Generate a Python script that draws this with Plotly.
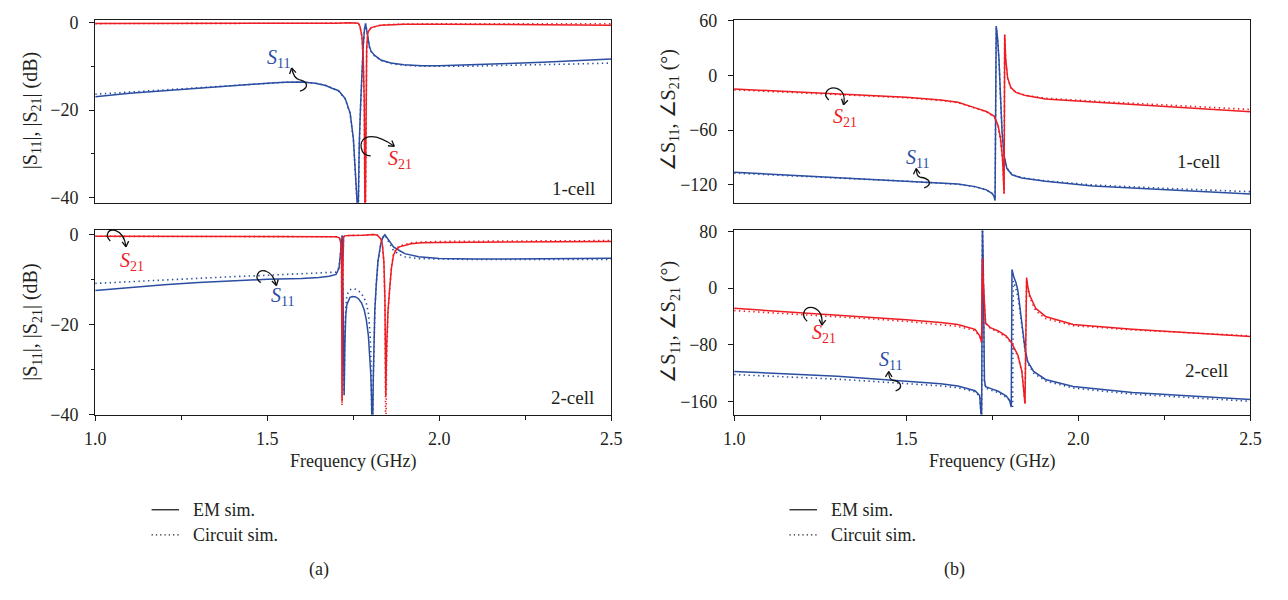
import math
import plotly.graph_objects as go

W, H = 1288, 600
BLUE = "#2B4EA2"
RED = "#EE1D23"
INK = "#231f20"
FONT = "Liberation Serif, Times New Roman, serif"

# ---------------- 1-cell, magnitude (dB) ----------------
F_TL_S11 = [1.00, 1.10, 1.20, 1.30, 1.40, 1.50, 1.55, 1.60, 1.64, 1.67, 1.69,
            1.7075, 1.7266, 1.741, 1.7503, 1.757, 1.7609, 1.7627, 1.7646, 1.7674, 1.7712,
            1.775, 1.779, 1.7827, 1.7857, 1.7886, 1.7924, 1.7971, 1.8019, 1.8114, 1.8305,
            1.859, 1.897, 1.95, 2.00, 2.10, 2.20, 2.30, 2.40, 2.50]
TL_S11_EM = [-17.0, -16.2, -15.6, -15.0, -14.4, -13.9, -13.7, -13.6, -13.9, -14.4, -15.1,
             -15.6, -17.4, -20.7, -26.5, -33.9, -40.5, -52.0, -40.0, -28.0, -19.2,
             -11.2, -5.3, -1.6, -0.3, -1.6, -3.8, -5.6, -6.6, -7.5, -8.6,
             -9.3, -9.7, -9.9, -9.9, -9.7, -9.4, -9.1, -8.8, -8.4]
TL_S11_CIR = [-16.4, -15.9, -15.4, -14.9, -14.4, -13.9, -13.7, -13.6, -13.9, -14.4, -15.1,
              -15.7, -17.5, -20.9, -26.8, -34.5, -41.0, -53.0, -41.0, -28.5, -19.5,
              -11.4, -5.4, -1.6, -0.3, -1.6, -3.9, -5.7, -6.7, -7.6, -8.7,
              -9.4, -9.8, -10.0, -10.0, -10.0, -9.8, -9.7, -9.5, -9.3]

F_TL_S21 = [1.00, 1.20, 1.40, 1.60, 1.70, 1.74, 1.755, 1.7646, 1.7694, 1.775, 1.779,
            1.782, 1.7845, 1.787, 1.789, 1.7924, 1.8019, 1.8305, 1.897, 2.00, 2.20, 2.50]
TL_S21_EM = [-0.3, -0.3, -0.3, -0.25, -0.2, -0.1, -0.1, -0.2, -0.9, -3.1, -8.0,
             -18.0, -50.0, -18.0, -6.0, -2.3, -1.2, -0.65, -0.45, -0.45, -0.55, -0.65]
TL_S21_CIR = [-0.3, -0.3, -0.3, -0.25, -0.2, -0.1, -0.1, -0.2, -0.9, -3.2, -8.5,
              -19.0, -55.0, -19.0, -6.3, -2.4, -1.2, -0.6, -0.4, -0.35, -0.35, -0.35]

# ---------------- 2-cell, magnitude (dB) ----------------
F_BL_S11 = [1.00, 1.10, 1.20, 1.30, 1.40, 1.50, 1.60, 1.65, 1.68, 1.70,
            1.7088, 1.7144, 1.7178, 1.7200, 1.7235, 1.7255, 1.728, 1.7314, 1.7404, 1.7483,
            1.757, 1.765, 1.774, 1.782, 1.788, 1.794, 1.799, 1.801, 1.803, 1.8055,
            1.8082, 1.8127, 1.817, 1.8218, 1.8297, 1.8365, 1.842, 1.849, 1.856, 1.867,
            1.884, 1.90, 1.94, 2.00, 2.10, 2.20, 2.30, 2.40, 2.50]
BL_S11_EM = [-12.5, -11.8, -11.2, -10.7, -10.3, -10.0, -9.8, -9.6, -9.3, -8.9,
             -7.5, -3.5, -0.3, -12.0, -35.4, -25.0, -18.2, -15.6, -14.0, -13.8,
             -13.9, -14.3, -15.2, -16.8, -19.0, -22.5, -28.0, -31.1, -36.0, -48.0,
             -32.0, -16.8, -11.0, -6.0, -2.2, -0.6, -0.1, -0.8, -1.7, -2.8,
             -3.6, -4.3, -5.0, -5.4, -5.5, -5.5, -5.4, -5.4, -5.3]
BL_S11_CIR = [-10.9, -10.5, -10.1, -9.8, -9.4, -9.1, -8.8, -8.7, -8.6, -8.4,
              -7.3, -3.5, -0.3, -12.0, -36.0, -24.0, -16.5, -13.5, -12.3, -12.1,
              -12.2, -12.5, -13.2, -14.2, -15.3, -17.5, -22.0, -26.0, -33.0, -50.0,
              -33.0, -17.0, -11.0, -6.2, -2.4, -0.7, -0.2, -1.2, -2.2, -3.6,
              -4.5, -5.0, -5.4, -5.5, -5.6, -5.6, -5.6, -5.6, -5.6]

F_BL_S21 = [1.00, 1.30, 1.60, 1.70, 1.710, 1.714, 1.716, 1.7175, 1.719, 1.7205,
            1.722, 1.725, 1.74, 1.78, 1.80, 1.81, 1.82, 1.83, 1.835, 1.839,
            1.842, 1.8435, 1.8445, 1.847, 1.851, 1.856, 1.861, 1.867, 1.875, 1.884,
            1.90, 1.918, 1.95, 2.00, 2.20, 2.50]
BL_S21_EM = [-0.45, -0.5, -0.5, -0.55, -0.8, -2.0, -6.0, -37.0, -10.0, -2.0,
             -0.6, -0.35, -0.25, -0.2, -0.05, -0.05, -0.2, -1.0, -2.5, -6.0,
             -14.0, -25.0, -36.0, -25.0, -17.0, -12.0, -7.5, -4.6, -3.4, -2.8,
             -2.4, -2.1, -1.9, -1.8, -1.7, -1.6]
BL_S21_CIR = [-0.45, -0.5, -0.5, -0.55, -0.8, -2.0, -6.5, -38.0, -10.5, -2.1,
              -0.6, -0.35, -0.25, -0.2, -0.05, -0.05, -0.2, -1.0, -2.6, -6.3,
              -15.0, -28.0, -48.0, -28.0, -17.5, -12.0, -7.3, -4.4, -3.2, -2.6,
              -2.2, -1.9, -1.7, -1.6, -1.5, -1.4]

# ---------------- 1-cell, phase (deg) ----------------
F_TR_S11 = [1.00, 1.10, 1.20, 1.30, 1.40, 1.50, 1.60, 1.65, 1.70, 1.733, 1.75, 1.7557,
            1.758, 1.7614, 1.7649, 1.7694, 1.774, 1.7786, 1.7843, 1.7923, 1.8072, 1.8359,
            1.9046, 2.042, 2.271, 2.50]
TR_S11_EM = [-106.0, -108.0, -110.0, -112.0, -113.8, -115.5, -117.5, -119.0, -121.8, -125.3,
             -129.5, -133.0, -137.0, 53.7, 42.6, 18.0, -24.3, -63.0, -87.7, -101.8, -108.9,
             -112.4, -115.9, -121.0, -125.6, -129.8]
TR_S11_CIR = [-107.0, -109.0, -110.8, -112.6, -114.2, -115.8, -117.8, -119.3, -122.0, -125.5,
              -129.5, -133.0, -136.0, 52.0, 41.0, 16.0, -26.0, -64.0, -88.0, -101.5, -108.5,
              -112.0, -115.5, -120.0, -124.0, -127.3]

F_TR_S21 = [1.00, 1.10, 1.20, 1.30, 1.40, 1.50, 1.60, 1.65, 1.6985, 1.7328, 1.7557, 1.7672,
            1.774, 1.7797, 1.7843, 1.786, 1.7889, 1.7946, 1.8038, 1.8187, 1.8473, 1.9046,
            2.042, 2.271, 2.50]
TR_S21_EM = [-15.0, -16.8, -18.6, -20.4, -22.2, -24.2, -27.2, -29.6, -35.4, -39.6, -44.9,
             -55.5, -69.6, -90.7, -129.5, 44.6, 18.2, -3.0, -13.5, -18.8, -22.3, -25.9,
             -29.4, -34.7, -40.0]
TR_S21_CIR = [-16.0, -17.6, -19.2, -20.9, -22.6, -24.6, -27.6, -30.0, -35.8, -40.0, -45.5,
              -56.5, -71.0, -92.0, -129.0, 44.0, 17.5, -3.5, -13.8, -18.8, -22.0, -25.2,
              -28.3, -32.8, -37.5]

# ---------------- 2-cell, phase (deg) ----------------
F_BR_S11 = [1.00, 1.10, 1.20, 1.30, 1.40, 1.50, 1.60, 1.65, 1.70, 1.7133, 1.719, 1.7213,
            1.7236, 1.7271, 1.7305, 1.7443, 1.7672, 1.79, 1.800, 1.805, 1.8072, 1.813,
            1.8187, 1.8244, 1.8301, 1.8359, 1.845, 1.853, 1.870, 1.9046, 1.985, 2.157, 2.50]
BR_S11_EM = [-117.5, -119.8, -122.0, -124.4, -127.8, -131.2, -135.0, -138.0, -144.8, -151.6,
             -190.0, 90.0, 38.0, -130.0, -139.0, -141.5, -145.5, -152.0, -158.0, -167.7,
             26.2, 14.8, 7.9, -3.5, -26.3, -49.0, -85.6, -103.8, -117.5, -128.9,
             -138.9, -147.2, -157.2]
F_BR_S11_C = [1.00, 1.10, 1.20, 1.30, 1.40, 1.50, 1.60, 1.65, 1.70, 1.7133, 1.719, 1.7213,
              1.7236, 1.7271, 1.7305, 1.7443, 1.7672, 1.79, 1.803, 1.809, 1.811, 1.817,
              1.8244, 1.8301, 1.836, 1.845, 1.853, 1.870, 1.9046, 1.985, 2.157, 2.50]
BR_S11_CIR = [-122.0, -124.0, -126.2, -128.5, -131.5, -134.5, -138.0, -140.5, -146.5, -152.5,
              -190.0, 90.0, 36.0, -132.0, -141.0, -143.5, -147.5, -154.0, -160.0, -168.0,
              10.0, 2.0, -12.0, -32.0, -55.0, -88.0, -106.0, -120.0, -131.0, -141.0,
              -149.5, -159.7]

F_BR_S21 = [1.00, 1.10, 1.20, 1.30, 1.40, 1.50, 1.60, 1.65, 1.70, 1.7133, 1.719, 1.7213,
            1.7236, 1.7271, 1.7305, 1.7443, 1.7672, 1.79, 1.805, 1.8244, 1.8359, 1.845,
            1.8496, 1.853, 1.8588, 1.876, 1.9046, 1.985, 2.157, 2.50]
BR_S21_EM = [-28.5, -31.5, -34.5, -37.7, -41.0, -44.5, -48.5, -51.4, -58.2, -67.4,
             -76.0, 42.0, 10.0, -30.8, -49.1, -55.9, -60.5, -67.4, -76.4, -94.7,
             -117.5, -163.0, 14.8, 2.0, -10.3, -28.5, -40.0, -51.4, -58.2, -68.3]
BR_S21_CIR = [-31.7, -34.5, -37.5, -40.5, -43.5, -47.0, -51.0, -54.0, -60.0, -68.5,
              -77.0, 40.0, 8.0, -32.0, -50.0, -57.0, -62.0, -69.0, -78.0, -96.0,
              -118.0, -163.0, 12.0, 0.0, -13.0, -32.0, -43.0, -53.0, -59.0, -67.4]

X_TICKS = [1.0, 1.5, 2.0, 2.5]
X_TICK_TEXT = ["1.0", "1.5", "2.0", "2.5"]
MAG_TICKS = [0, -20, -40]
MAG_MINOR = [-10, -30]
PH1_TICKS = [60, 0, -60, -120]
PH2_TICKS = [80, 0, -80, -160]

fig = go.Figure()


def add_curve(f, v, color, dotted, xa, ya):
    fig.add_trace(go.Scatter(
        x=f, y=v, mode="lines", xaxis=xa, yaxis=ya,
        line=dict(color=color, width=1.5 if not dotted else 1.6,
                  dash="1.4px,3.4px" if dotted else "solid"),
        showlegend=False, hoverinfo="skip"))


# circuit (dotted) first so the EM curves sit on top
add_curve(F_TL_S11, TL_S11_CIR, BLUE, True, "x", "y")
add_curve(F_TL_S21, TL_S21_CIR, RED, True, "x", "y")
add_curve(F_TL_S11, TL_S11_EM, BLUE, False, "x", "y")
add_curve(F_TL_S21, TL_S21_EM, RED, False, "x", "y")

add_curve(F_BL_S11, BL_S11_CIR, BLUE, True, "x2", "y2")
add_curve(F_BL_S21, BL_S21_CIR, RED, True, "x2", "y2")
add_curve(F_BL_S11, BL_S11_EM, BLUE, False, "x2", "y2")
add_curve(F_BL_S21, BL_S21_EM, RED, False, "x2", "y2")

add_curve(F_TR_S11, TR_S11_CIR, BLUE, True, "x3", "y3")
add_curve(F_TR_S21, TR_S21_CIR, RED, True, "x3", "y3")
add_curve(F_TR_S11, TR_S11_EM, BLUE, False, "x3", "y3")
add_curve(F_TR_S21, TR_S21_EM, RED, False, "x3", "y3")

add_curve(F_BR_S11_C, BR_S11_CIR, BLUE, True, "x4", "y4")
add_curve(F_BR_S21, BR_S21_CIR, RED, True, "x4", "y4")
add_curve(F_BR_S11, BR_S11_EM, BLUE, False, "x4", "y4")
add_curve(F_BR_S21, BR_S21_EM, RED, False, "x4", "y4")


def px(x):
    return x / W


def py(y):
    return 1 - y / H


X_LEFT = [px(85.7), px(610.7)]
X_RIGHT = [px(735.7), px(1261.0)]
Y_TOP = [py(199.5), py(10.5)]
Y_BOT = [py(418.5), py(228.0)]

tickfont = dict(family=FONT, size=18, color=INK)
base = dict(showline=True, linecolor="#1a1a1a", linewidth=1.4, mirror=True,
            showgrid=False, zeroline=False, tickfont=tickfont,
            tickcolor="#1a1a1a", tickwidth=1.3)


def xaxis_top(domain, anchor):
    return dict(base, domain=domain, anchor=anchor, range=[1.0, 2.5],
                ticks="", showticklabels=False)


def xaxis_bottom(domain, anchor):
    return dict(base, domain=domain, anchor=anchor, range=[1.0, 2.5],
                ticks="outside", ticklen=5, tickmode="array",
                tickvals=X_TICKS, ticktext=X_TICK_TEXT, ticklabelstandoff=3,
                minor=dict(ticks="outside", ticklen=4, tickmode="array",
                           tickvals=[1.25, 1.75, 2.25], tickcolor="#1a1a1a",
                           tickwidth=1.2))


def yaxis(domain, anchor, rng, vals, minor=None):
    d = dict(base, domain=domain, anchor=anchor, range=rng, ticks="outside",
             ticklen=5, tickmode="array", tickvals=vals, ticklabelstandoff=7)
    if minor:
        d["minor"] = dict(ticks="outside", ticklen=3, tickmode="array",
                          tickvals=minor, tickcolor="#1a1a1a", tickwidth=1.2)
    return d


fig.update_layout(
    width=W, height=H,
    margin=dict(l=0, r=0, t=0, b=0),
    paper_bgcolor="white", plot_bgcolor="white",
    showlegend=False,
    font=dict(family=FONT, color=INK),
    xaxis=xaxis_top(X_LEFT, "y"),
    yaxis=yaxis(Y_TOP, "x", [-41.17, 0.485], MAG_TICKS, MAG_MINOR),
    xaxis2=xaxis_bottom(X_LEFT, "y2"),
    yaxis2=yaxis(Y_BOT, "x2", [-40.0, 0.86], MAG_TICKS, MAG_MINOR),
    xaxis3=xaxis_top(X_RIGHT, "y3"),
    yaxis3=yaxis(Y_TOP, "x3", [-139.55, 60.2], PH1_TICKS),
    xaxis4=xaxis_bottom(X_RIGHT, "y4"),
    yaxis4=yaxis(Y_BOT, "x4", [-178.4, 81.4], PH2_TICKS),
)

annotations = []
shapes = []


def text(x, y, s, size=18, color=INK, xanchor="center", angle=0):
    annotations.append(dict(x=px(x), y=py(y), xref="paper", yref="paper", text=s,
                            showarrow=False, xanchor=xanchor, yanchor="middle",
                            textangle=angle,
                            font=dict(family=FONT, size=size, color=color)))


# axis titles
text(21, 104, "|S<sub>11</sub>|, |S<sub>21</sub>| (dB)", size=20, angle=-90)
text(21, 323, "|S<sub>11</sub>|, |S<sub>21</sub>| (dB)", size=20, angle=-90)
text(670, 104, "∠S<sub>11</sub>, ∠S<sub>21</sub> (°)", size=20, angle=-90)
text(670, 323, "∠S<sub>11</sub>, ∠S<sub>21</sub> (°)", size=20, angle=-90)
text(348, 467, "Frequency (GHz)")
text(998, 467, "Frequency (GHz)")

# panel tags
text(596, 185, "1-cell", size=19, xanchor="right")
text(595, 401, "2-cell", size=19, xanchor="right")
text(1232, 157, "1-cell", size=19, xanchor="right")
text(1240, 373, "2-cell", size=19, xanchor="right")

# curve labels
S11 = "<i>S</i><sub>11</sub>"
S21 = "<i>S</i><sub>21</sub>"
text(272, 50, S11, size=20, color=BLUE)
text(396, 155, S21, size=20, color=RED)
text(123, 260, S21, size=20, color=RED)
text(276, 296, S11, size=20, color=BLUE)
text(849, 111, S21, size=20, color=RED)
text(922, 154, S11, size=20, color=BLUE)
text(827, 335, S21, size=20, color=RED)
text(895, 363, S11, size=20, color=BLUE)

# captions
text(313, 579, "(a)")
text(960, 579, "(b)")

# legends
for x0, x1, xt in ((143, 171, 183), (792, 820, 832)):
    shapes.append(dict(type="line", xref="paper", yref="paper",
                       x0=px(x0), x1=px(x1), y0=py(517), y1=py(517),
                       line=dict(color=INK, width=1.3)))
    shapes.append(dict(type="line", xref="paper", yref="paper",
                       x0=px(x0), x1=px(x1), y0=py(543), y1=py(543),
                       line=dict(color=INK, width=1.3, dash="1.3px,3px")))
    text(xt, 517, "EM sim.", xanchor="left")
    text(xt, 543, "Circuit sim.", xanchor="left")


# curled pointer arrows: start point + two cubic segments, head at the end
def curl(pts):
    (x0, y0), c1, c2, p1, c3, c4, p2 = pts
    path = "M {},{} C {},{} {},{} {},{} C {},{} {},{} {},{}".format(
        px(x0), py(y0), px(c1[0]), py(c1[1]), px(c2[0]), py(c2[1]),
        px(p1[0]), py(p1[1]), px(c3[0]), py(c3[1]), px(c4[0]), py(c4[1]),
        px(p2[0]), py(p2[1]))
    shapes.append(dict(type="path", xref="paper", yref="paper", path=path,
                       line=dict(color="#111111", width=1.3)))
    ang = math.atan2(p2[1] - c4[1], p2[0] - c4[0])
    for da in (2.6, -2.6):
        hx = p2[0] + 6.5 * math.cos(ang + da)
        hy = p2[1] + 6.5 * math.sin(ang + da)
        shapes.append(dict(type="line", xref="paper", yref="paper",
                           x0=px(p2[0]), y0=py(p2[1]), x1=px(hx), y1=py(hy),
                           line=dict(color="#111111", width=1.3)))


curl([(294, 84), (303, 81), (303, 74), (293, 72), (289, 71), (287, 67), (285.5, 60)])
curl([(366, 151), (355, 151), (353, 136), (361, 132), (369, 129), (379, 133), (390, 141)])
curl([(101, 239), (95, 233), (99, 226), (106, 228), (112, 230), (116, 236), (117, 245)])
curl([(254, 282), (247, 277), (251, 268), (259, 270), (265, 272), (268, 277), (270, 285)])
curl([(832, 93), (825, 87), (831, 79), (840, 81), (846, 83), (849, 89), (847, 98)])
curl([(929, 184), (938, 181), (935, 174), (925, 173), (922, 172), (921.5, 170), (921, 164)])
curl([(810, 322), (803, 316), (807, 306), (816, 308), (822, 310), (826, 316), (825, 326)])
curl([(900, 394), (908, 391), (906, 384), (897, 383), (894, 382), (893, 380), (893, 374)])

fig.update_layout(annotations=annotations, shapes=shapes)

fig.write_html("out.html", config={"displayModeBar": False})
